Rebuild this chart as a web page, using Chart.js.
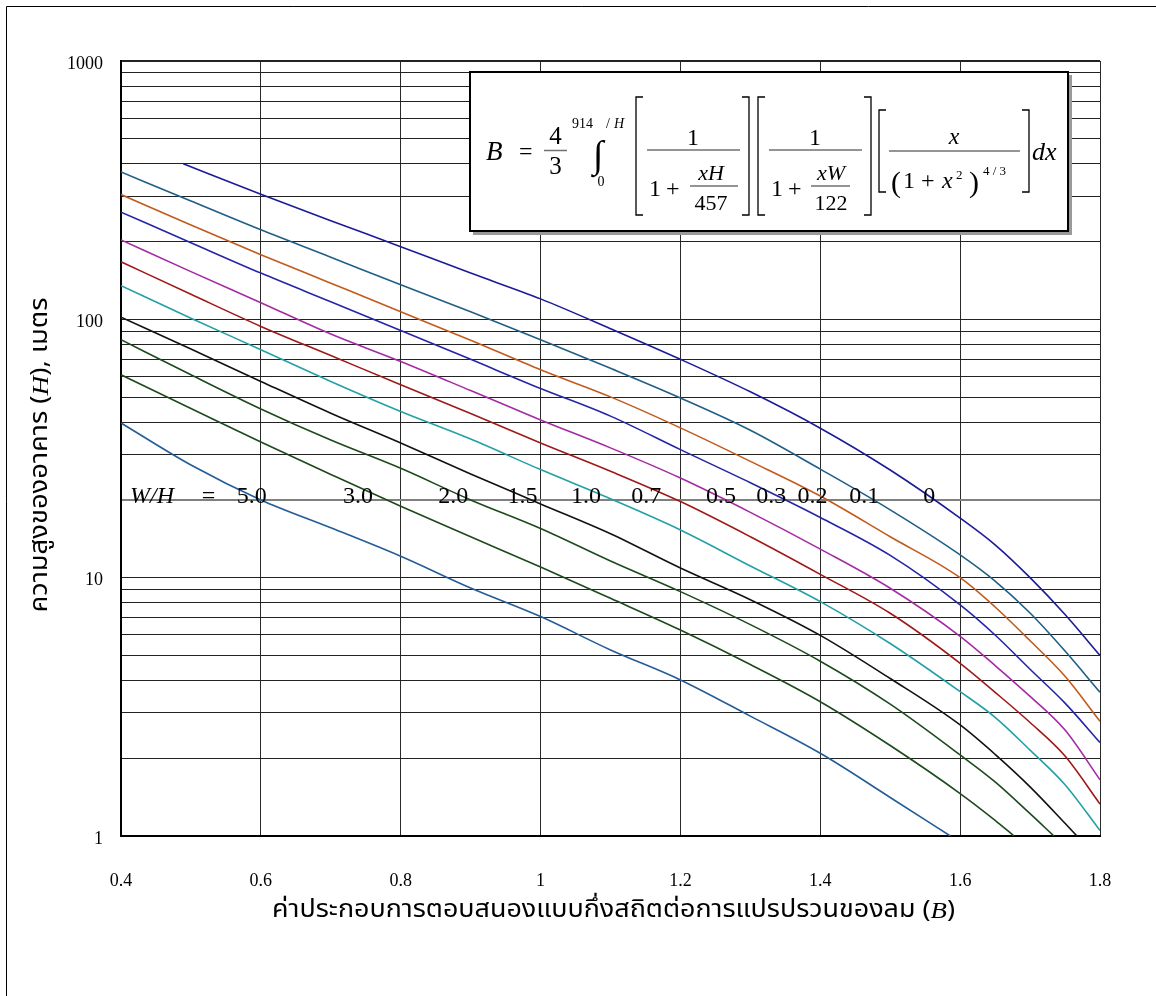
<!DOCTYPE html>
<html><head><meta charset="utf-8">
<script src="https://cdn.jsdelivr.net/npm/chart.js@4.4.1/dist/chart.umd.min.js"></script>
<style>html,body{margin:0;padding:0;background:#fff;}canvas{display:block;}</style>
</head><body>
<canvas id="c" width="1156" height="996"></canvas>
<script>
// ---- data (B = x, H = y) ----
const whNames = ['0','0.1','0.2','0.3','0.5','0.7','1.0','1.5','2.0','3.0','5.0'];

const b_wh0  = [0.489,0.6,0.7,0.8,0.9,1.0,1.1,1.2,1.3,1.4,1.5,1.6,1.65,1.7,1.75,1.8];
const h_wh0  = [400,305,241,191,151,120,92,70,52.4,37.9,26.1,17,13.4,10,7.2,5.0];

const b_wh01 = [0.4,0.5,0.6,0.7,0.8,0.9,1.0,1.1,1.2,1.3,1.4,1.5,1.6,1.65,1.7,1.75,1.8];
const h_wh01 = [372,287,222,174,136,107,83.4,64.6,49.6,37.2,26.3,18.3,12.25,9.7,7.3,5.2,3.6];

const b_wh02 = [0.4,0.5,0.6,0.7,0.8,0.9,1.0,1.1,1.2,1.3,1.4,1.5,1.6,1.65,1.7,1.75,1.8];
const h_wh02 = [304,232,178,138,107,83,63.8,50.1,38,28.2,20.7,14.4,10,7.7,5.7,4.15,2.78];

const b_wh03 = [0.4,0.5,0.6,0.7,0.8,0.9,1.0,1.1,1.2,1.3,1.4,1.5,1.6,1.65,1.7,1.75,1.8];
const h_wh03 = [260,198,151,117,90.6,70,54,42.2,31.3,23.3,17.1,12.2,7.85,6.0,4.42,3.27,2.3];

const b_wh05 = [0.4,0.5,0.6,0.7,0.8,0.9,1.0,1.1,1.2,1.3,1.4,1.5,1.6,1.65,1.7,1.75,1.8];
const h_wh05 = [203,153,116,87.7,68.7,53,40.8,31.8,24.3,17.9,12.9,9.1,5.93,4.57,3.47,2.57,1.65];

const b_wh07 = [0.4,0.5,0.6,0.7,0.8,0.9,1.0,1.1,1.2,1.3,1.4,1.5,1.6,1.65,1.7,1.75,1.8];
const h_wh07 = [167,125,93.9,72.4,55.8,43.2,33.2,25.8,19.7,14.4,10.3,7.28,4.66,3.6,2.75,2.04,1.33];

const b_wh10 = [0.4,0.5,0.6,0.7,0.8,0.9,1.0,1.1,1.2,1.3,1.4,1.5,1.6,1.65,1.7,1.75,1.8];
const h_wh10 = [135,101,76.3,57.5,44,34.4,26.2,20.2,15.3,11.1,8.08,5.56,3.62,2.88,2.15,1.58,1.05];

const b_wh15 = [0.4,0.5,0.6,0.7,0.8,0.9,1.0,1.1,1.2,1.3,1.4,1.5,1.6,1.65,1.7,1.75,1.767];
const h_wh15 = [102,76.7,57.5,43.3,33.2,25.2,19.3,14.8,10.9,8.22,5.98,4.07,2.69,2.07,1.55,1.12,1];

const b_wh20 = [0.4,0.5,0.6,0.7,0.8,0.9,1.0,1.1,1.2,1.3,1.4,1.5,1.6,1.65,1.7,1.734];
const h_wh20 = [83.4,61,45,34.1,26.5,20,15.5,11.6,8.83,6.58,4.75,3.24,2.06,1.62,1.22,1];

const b_wh30 = [0.4,0.5,0.6,0.7,0.8,0.9,1.0,1.1,1.2,1.3,1.4,1.5,1.6,1.65,1.677];
const h_wh30 = [61,45.2,33.5,25.1,18.9,14.4,11,8.32,6.27,4.61,3.31,2.24,1.46,1.15,1];

const b_wh50 = [0.4,0.5,0.6,0.7,0.8,0.9,1.0,1.1,1.2,1.3,1.4,1.5,1.586];
const h_wh50 = [39.7,27.3,20,15.6,12.1,9.12,7.07,5.25,4.02,2.91,2.09,1.41,1];

const xTickValues = [0.4,0.6,0.8,1.0,1.2,1.4,1.6,1.8];
const xTickLabels = ['0.4','0.6','0.8','1','1.2','1.4','1.6','1.8'];
const yTickValues = [1,10,100,1000];
const yTickLabels = ['1','10','100','1000'];

// annotation anchors (B values where the W/H labels sit, on the H = 20 line)
const whLabelB = [1.556,1.463,1.389,1.330,1.258,1.151,1.065,0.974,0.875,0.739,0.587];
const whTitleB = 0.413, whEqB = 0.525, whLineH = 20;

const xTitleText = ['ค่าประกอบการตอบสนองแบบกึ่งสถิตต่อการแปรปรวนของลม (', 'B', ')'];
const yTitleText = ['ความสูงของอาคาร (', 'H', '), เมตร'];

// ---- styles ----
const lineColors = ['#1b1b98','#1f5f85','#c25a1c','#2525a8','#a42ba4','#a01818','#22a0a6','#111111','#1c4a1c','#1c4a1c','#235c98'];
const SERIF = '"Liberation Serif","Times New Roman",serif';
const THAI = '"Noto Sans Thai","Noto Serif Thai","Loma","Garuda","Norasi","Kinnari","Tlwg Typo","Liberation Serif",serif';

const seriesB = [b_wh0,b_wh01,b_wh02,b_wh03,b_wh05,b_wh07,b_wh10,b_wh15,b_wh20,b_wh30,b_wh50];
const seriesH = [h_wh0,h_wh01,h_wh02,h_wh03,h_wh05,h_wh07,h_wh10,h_wh15,h_wh20,h_wh30,h_wh50];

const yGrid = [];
[1,10,100].forEach(d => { for (let k = 1; k <= 9; k++) yGrid.push(k*d); });
yGrid.push(1000);

function drawMixed(ctx, parts, cx, cy, size, family, targetW, rot) {
  ctx.save();
  ctx.translate(cx, cy);
  if (rot) ctx.rotate(rot);
  const fonts = parts.map((p,i) => (i===1 ? 'italic ' : '') + size + 'px ' + (i===1 ? SERIF : family));
  let w = 0; const ws = [];
  parts.forEach((p,i) => { ctx.font = fonts[i]; const m = ctx.measureText(p).width; ws.push(m); w += m; });
  let sx = targetW / w; sx = Math.max(0.55, Math.min(1.3, sx));
  ctx.scale(sx, 1);
  let x = -w/2;
  ctx.fillStyle = '#000'; ctx.textAlign = 'left'; ctx.textBaseline = 'middle';
  parts.forEach((p,i) => { ctx.font = fonts[i]; ctx.fillText(p, x, 0); x += ws[i]; });
  ctx.restore();
}

function drawFormula(ctx) {
  ctx.save();
  ctx.fillStyle = '#9a9a9a';
  ctx.fillRect(473, 232, 599, 3);
  ctx.fillRect(1069, 75, 3, 160);
  ctx.fillStyle = '#fff'; ctx.fillRect(469, 71, 600, 161);
  ctx.strokeStyle = '#000'; ctx.lineWidth = 2; ctx.strokeRect(470, 72, 598, 159);
  ctx.fillStyle = '#000'; ctx.textBaseline = 'alphabetic';
  const t = (s, x, y, size, it, al) => { ctx.font = (it ? 'italic ' : '') + size + 'px ' + SERIF; ctx.textAlign = al || 'left'; ctx.fillText(s, x, y); };
  const hl = (x1, x2, y) => { ctx.strokeStyle = '#707070'; ctx.lineWidth = 1.5; ctx.beginPath(); ctx.moveTo(x1, y); ctx.lineTo(x2, y); ctx.stroke(); };
  const br = (x, y1, y2, dir) => { ctx.strokeStyle = '#000'; ctx.lineWidth = 1.3; ctx.beginPath(); ctx.moveTo(x + 7*dir, y1); ctx.lineTo(x, y1); ctx.lineTo(x, y2); ctx.lineTo(x + 7*dir, y2); ctx.stroke(); };
  t('B', 486, 160, 27, true);
  t('=', 519, 159, 24);
  t('4', 555.5, 144, 25, false, 'center'); hl(544, 567, 150.5); t('3', 555.5, 174, 25, false, 'center');
  t('914', 572, 128, 14); t('/', 606, 128, 14); t('H', 614, 128, 14, true);
  t('\u222B', 598, 167, 38, false, 'center');
  t('0', 601, 186, 14, false, 'center');
  br(636, 97, 215, 1); br(749, 97, 215, -1);
  t('1', 693, 145, 24, false, 'center'); hl(647, 740, 150);
  t('1', 649, 196, 24); t('+', 666, 196, 24);
  t('xH', 711, 180, 22, true, 'center'); hl(690, 738, 186); t('457', 711, 210, 22, false, 'center');
  br(758, 97, 215, 1); br(871, 97, 215, -1);
  t('1', 815, 145, 24, false, 'center'); hl(769, 862, 150);
  t('1', 771, 196, 24); t('+', 788, 196, 24);
  t('xW', 831, 180, 22, true, 'center'); hl(811, 850, 186); t('122', 831, 210, 22, false, 'center');
  br(879, 110, 192, 1); br(1029, 110, 192, -1);
  t('x', 954, 144, 24, true, 'center'); hl(889, 1020, 151);
  t('(', 891, 192, 30); t('1', 903, 188, 24); t('+', 921, 188, 24); t('x', 942, 188, 24, true);
  t('2', 956, 179, 13); t(')', 969, 192, 30); t('4 / 3', 983, 175, 13);
  t('dx', 1032, 160, 26, true);
  ctx.restore();
}

const annot = {
  id: 'annot',
  afterDatasetsDraw(chart) {
    const ctx = chart.ctx, xs = chart.scales.x, ys = chart.scales.y;
    ctx.save();
    ctx.fillStyle = '#000'; ctx.textBaseline = 'alphabetic';
    const yb = ys.getPixelForValue(whLineH) + 3;
    ctx.font = 'italic 24px ' + SERIF; ctx.textAlign = 'left';
    ctx.fillText('W/H', xs.getPixelForValue(whTitleB), yb);
    ctx.font = '24px ' + SERIF; ctx.textAlign = 'center';
    ctx.fillText('=', xs.getPixelForValue(whEqB), yb);
    whNames.forEach((n, i) => ctx.fillText(n, xs.getPixelForValue(whLabelB[i]), yb));
    ctx.restore();
    drawFormula(ctx);
  },
  afterDraw(chart) {
    const ctx = chart.ctx, a = chart.chartArea;
    drawMixed(ctx, xTitleText, (a.left + a.right)/2 + 3, 912, 24, THAI, 683, 0);
    drawMixed(ctx, yTitleText, 42, 455, 24, THAI, 315, -Math.PI/2);
    ctx.save();
    ctx.strokeStyle = '#000'; ctx.lineWidth = 1;
    ctx.beginPath(); ctx.moveTo(6.5, 996); ctx.lineTo(6.5, 6.5); ctx.lineTo(1156, 6.5); ctx.stroke();
    ctx.restore();
  }
};

new Chart(document.getElementById('c'), {
  type: 'line',
  data: {
    datasets: whNames.map((n, i) => ({
      label: 'W/H = ' + n,
      data: seriesB[i].map((b, j) => ({x: b, y: seriesH[i][j]})),
      borderColor: lineColors[i],
      backgroundColor: lineColors[i],
      borderWidth: 1.6,
      pointRadius: 0,
      fill: false,
      cubicInterpolationMode: 'monotone'
    }))
  },
  options: {
    responsive: false,
    animation: false,
    events: [],
    layout: { padding: { left: 0, top: 61, right: 56, bottom: 0 } },
    plugins: { legend: { display: false }, tooltip: { enabled: false } },
    scales: {
      x: {
        type: 'linear', min: 0.4, max: 1.8,
        afterBuildTicks: s => { s.ticks = xTickValues.map(v => ({value: v})); },
        afterFit: s => { s.height = 160; },
        ticks: {
          autoSkip: false, maxRotation: 0, padding: 34, color: '#000',
          font: { family: SERIF, size: 18 },
          callback: (v, i) => xTickLabels[i]
        },
        grid: { drawTicks: false, color: '#2a2a2a', lineWidth: 1 },
        border: { display: true, color: '#000', width: 2 }
      },
      y: {
        type: 'logarithmic', min: 1, max: 1000,
        afterBuildTicks: s => { s.ticks = yGrid.map(v => ({value: v})); },
        afterFit: s => { s.width = 121; },
        ticks: {
          autoSkip: false, padding: 18, labelOffset: 3, color: '#000',
          font: { family: SERIF, size: 18 },
          callback: v => { const k = yTickValues.indexOf(v); return k >= 0 ? yTickLabels[k] : ''; }
        },
        grid: {
          drawTicks: false,
          color: c => (c.tick && c.tick.value === whLineH) ? '#808080' : '#222',
          lineWidth: c => (c.tick && (c.tick.value === whLineH || c.tick.value === 1000)) ? 2 : 1
        },
        border: { display: true, color: '#000', width: 2 }
      }
    }
  },
  plugins: [annot]
});
</script>
</body></html>
